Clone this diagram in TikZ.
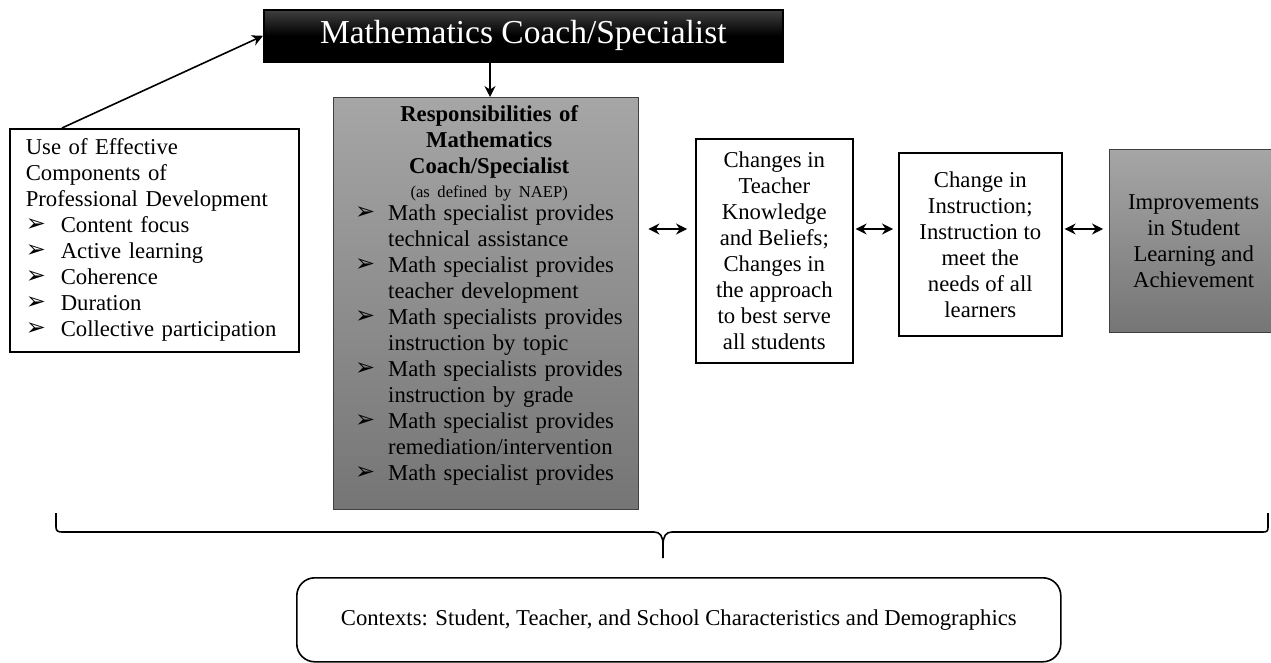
\documentclass[tikz,border=0pt]{standalone}
\usepackage{fontspec}
\setmainfont{Liberation Serif}
\newfontfamily\dingfont{DejaVu Sans}
\usetikzlibrary{arrows.meta,positioning,calc}
\setlength{\parindent}{0pt}
\newcommand{\bul}{\raisebox{1pt}{\dingfont\fontsize{24}{24}\selectfont ➢}}
\newcommand{\bitem}[2][33pt]{\makebox[#1][l]{\bul}#2}
\newcommand{\bcont}[2][33pt]{\hspace*{#1}#2}

\begin{document}
\begin{tikzpicture}[x=1pt,y=-1pt,>={Stealth[length=11pt,width=11pt]},
        box/.style={draw=black,line width=1.6pt,inner sep=0pt},
        greybox/.style={draw=black!75,line width=1.4pt,inner sep=0pt,top color=black!35,bottom color=black!54},
        txt/.style={align=center,font=\fontsize{22.7}{26}\selectfont},
        link/.style={->,line width=1.6pt},
        both/.style={<->,line width=1.6pt}]
        \useasboundingbox (0,0) rectangle (1271,663);
        \coordinate (arrowrow) at (0,229);
        \coordinate (downx) at (490,0);
        \node[box,anchor=north west,minimum width=519pt,minimum height=52pt,
          top color=black!75,bottom color=black,middle color=black,text=white,
          font=\fontsize{33.5}{36}\selectfont] (title) at (263,9) {Mathematics Coach/Specialist};
        \node[box,anchor=north west,minimum width=289pt,minimum height=223pt,inner xsep=16pt,
          text width=257pt,align=left,font=\fontsize{22.7}{26}\selectfont] (effect) at (9,128)
          {Use of Effective\\
           Components of\\
           Professional Development\\
           \bitem[35pt]{Content focus}\\
           \bitem[35pt]{Active learning}\\
           \bitem[35pt]{Coherence}\\
           \bitem[35pt]{Duration}\\
           \bitem[35pt]{Collective participation}};
        \node[greybox,anchor=north west,minimum width=305pt,minimum height=412pt] (resp) at (333,97) {};
        \node[anchor=north,text width=268pt,inner sep=0pt,font=\fontsize{22.7}{26}\selectfont]
          (resptext) at ($(resp.north)+(3,8)$)
          {{\centering\bfseries Responsibilities of\\
            Mathematics\\
            Coach/Specialist\\[-2pt]
            {\mdseries\fontsize{16.6}{20}\selectfont (as defined by NAEP)}\par}
           \vspace{-3pt}
           \bitem{Math specialist provides}\\
           \bcont{technical assistance}\\
           \bitem{Math specialist provides}\\
           \bcont{teacher development}\\
           \bitem{Math specialists provides}\\
           \bcont{instruction by topic}\\
           \bitem{Math specialists provides}\\
           \bcont{instruction by grade}\\
           \bitem{Math specialist provides}\\
           \bcont{remediation/intervention}\\
           \bitem{Math specialist provides}};
        \node[box,txt,anchor=north west,minimum width=157pt,minimum height=224pt] (know) at (695,138)
          {Changes in\\Teacher\\Knowledge\\and Beliefs;\\Changes in\\the approach\\to best serve\\all students};
        \node[box,txt,anchor=north west,minimum width=163pt,minimum height=183pt] (instr) at (898,152)
          {Change in\\Instruction;\\Instruction to\\meet the\\needs of all\\learners};
        \node[greybox,txt,anchor=north west,minimum width=168pt,minimum height=183pt] (achieve) at (1109,149)
          {Improvements\\in Student\\Learning and\\Achievement};
        \node[box,txt,rounded corners=18pt,anchor=north west,minimum width=764pt,minimum height=84pt] (context) at (296,577)
          {\raisebox{-6pt}{Contexts: Student, Teacher, and School Characteristics and Demographics}};
        \draw[link] ([xshift=53pt]effect.north west) -- (title.west);
        \draw[link] (title.south -| downx) -- (resp.north -| downx);
        \draw[both,shorten <=9pt,shorten >=8pt] (resp.east |- arrowrow) -- (know.west |- arrowrow);
        \draw[both,shorten <=2pt,shorten >=5pt] (know.east |- arrowrow) -- (instr.west |- arrowrow);
        \draw[both,shorten <=2pt,shorten >=6pt] (instr.east |- arrowrow) -- (achieve.west |- arrowrow);
        \draw[line width=1.6pt] (56,513) -- (56,527) .. controls (56,531) and (58,532) .. (62,532) -- (654,532)
          .. controls (660,532) and (663,536) .. (663,545) -- (663,558);
        \draw[line width=1.6pt] (663,545) .. controls (663,536) and (666,532) .. (672,532) -- (1263,532)
          .. controls (1267,532) and (1268,531) .. (1268,527) -- (1268,513);
      \end{tikzpicture}
\end{document}
